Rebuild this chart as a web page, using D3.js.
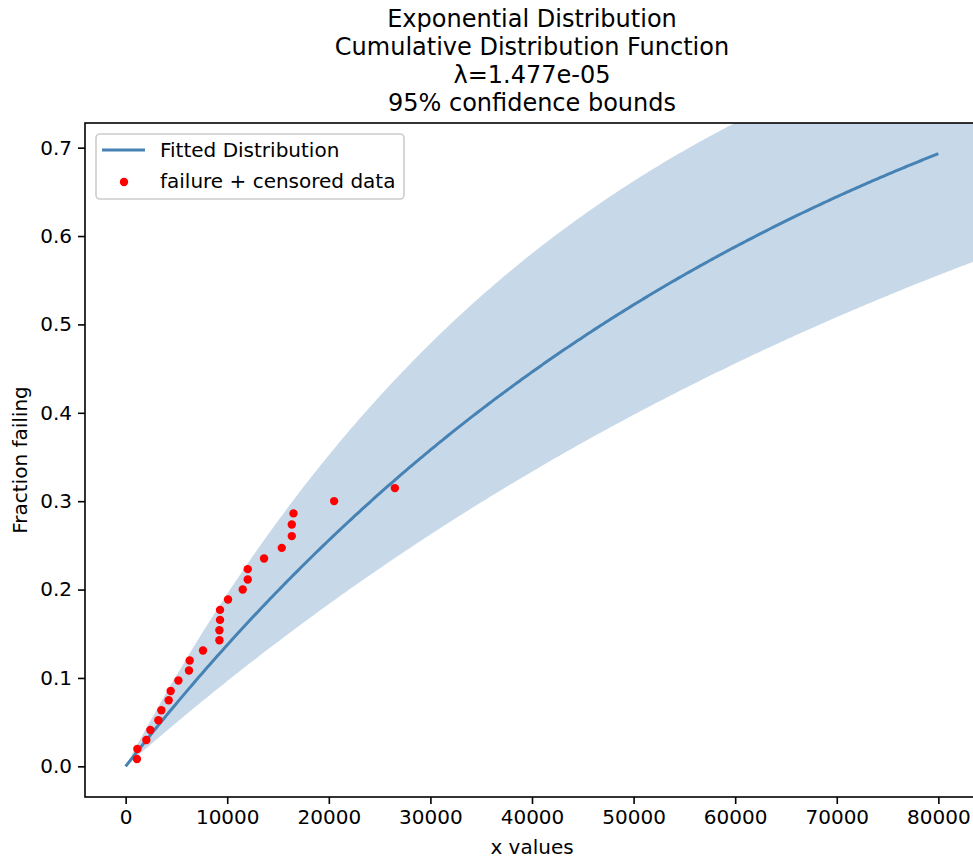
<!DOCTYPE html>
<html>
<head>
<meta charset="utf-8">
<script src="https://cdn.jsdelivr.net/npm/d3@7"></script>
<style>
  body { margin: 0; background: #fff; }
  svg { display: block; font-family: "DejaVu Sans", sans-serif; }
</style>
</head>
<body>
<svg id="chart" width="973" height="859"></svg>
<script>
// ---- data ----
const titleLines = ["Exponential Distribution", "Cumulative Distribution Function", "λ=1.477e-05", "95% confidence bounds"];
const lambdaFit = 1.477e-05;     // fitted rate
const lambdaUpperCI = 2.17e-05;  // rate giving upper CDF bound
const lambdaLowerCI = 1.014e-05; // rate giving lower CDF bound
const fitXMax = 80000;           // fitted line drawn from 0 to this x
const ciXMax = 90000;            // confidence band extends past the view
const failureX = [1113, 1153, 2039, 2433, 3222, 3517, 4236, 4433, 5192, 6236, 6305, 7616, 9232, 9232, 9291, 9291, 10079, 11527, 12020, 12020, 13626, 15369, 16355, 16355, 16522, 20522, 26502];
const failureY = [0.0083, 0.0196, 0.0298, 0.0411, 0.0521, 0.0634, 0.0747, 0.0853, 0.0971, 0.1084, 0.1197, 0.1310, 0.1427, 0.1540, 0.1657, 0.1770, 0.1888, 0.2001, 0.2114, 0.2231, 0.2352, 0.2472, 0.2605, 0.2737, 0.2862, 0.3001, 0.3148];
const xTicks = [0, 10000, 20000, 30000, 40000, 50000, 60000, 70000, 80000];
const yTicks = [0.0, 0.1, 0.2, 0.3, 0.4, 0.5, 0.6, 0.7];
const legendLabels = ["Fitted Distribution", "failure + censored data"];

(function () {
// ---- layout ----
const svg = d3.select("#chart");
const pl = 85, pt = 123, pr = 979, pb = 797;
const x = d3.scaleLinear().domain([-4000, 84000]).range([pl, pr]);
const y = d3.scaleLinear().domain([-0.0347, 0.7279]).range([pb, pt]);
const lineColor = "#4682b4";
const cdf = (lam, t) => 1 - Math.exp(-lam * t);

svg.append("defs").append("clipPath").attr("id", "plotclip")
  .append("rect").attr("x", pl).attr("y", pt).attr("width", pr - pl).attr("height", pb - pt);

const plot = svg.append("g").attr("clip-path", "url(#plotclip)");

// confidence band
const ciXs = d3.range(0, ciXMax + 1, 250);
const area = d3.area()
  .x(d => x(d))
  .y0(d => y(cdf(lambdaLowerCI, d)))
  .y1(d => y(cdf(lambdaUpperCI, d)));
plot.append("path").datum(ciXs).attr("d", area)
  .attr("fill", lineColor).attr("fill-opacity", 0.3).attr("stroke", "none");

// fitted line
const fitXs = d3.range(0, fitXMax + 1, 250);
const line = d3.line().x(d => x(d)).y(d => y(cdf(lambdaFit, d)));
plot.append("path").datum(fitXs).attr("d", line)
  .attr("fill", "none").attr("stroke", lineColor).attr("stroke-width", 3);

// scatter
plot.selectAll("circle.pt").data(failureX.map((v, i) => [v, failureY[i]]))
  .enter().append("circle").attr("class", "pt")
  .attr("cx", d => x(d[0])).attr("cy", d => y(d[1])).attr("r", 4.2)
  .attr("fill", "red");

// axes
const xAxis = d3.axisBottom(x).tickValues(xTicks).tickFormat(d3.format("d")).tickSize(7).tickPadding(6);
const yAxis = d3.axisLeft(y).tickValues(yTicks).tickFormat(d3.format(".1f")).tickSize(7).tickPadding(6);
const gx = svg.append("g").attr("transform", `translate(0,${pb})`).call(xAxis);
const gy = svg.append("g").attr("transform", `translate(${pl},0)`).call(yAxis);
[gx, gy].forEach(g => {
  g.select(".domain").remove();
  g.selectAll(".tick line").attr("stroke", "#000").attr("stroke-width", 1.6);
  g.selectAll(".tick text").attr("font-size", 20).attr("fill", "#000").attr("font-family", "DejaVu Sans");
});

// spines
svg.append("rect").attr("x", pl).attr("y", pt).attr("width", pr - pl).attr("height", pb - pt)
  .attr("fill", "none").attr("stroke", "#000").attr("stroke-width", 1.6);

// axis labels
svg.append("text").attr("x", (pl + pr) / 2).attr("y", 854).attr("text-anchor", "middle")
  .attr("font-size", 20).text("x values");
svg.append("text").attr("transform", `translate(27,${(pt + pb) / 2}) rotate(-90)`).attr("text-anchor", "middle")
  .attr("font-size", 20).text("Fraction failing");

// title
svg.append("g").selectAll("text").data(titleLines).enter().append("text")
  .attr("x", (pl + pr) / 2).attr("y", (d, i) => 27 + i * 28)
  .attr("text-anchor", "middle").attr("font-size", 24).text(d => d);

// legend
const lg = svg.append("g");
lg.append("rect").attr("x", 96).attr("y", 134).attr("width", 308).attr("height", 65).attr("rx", 4)
  .attr("fill", "#fff").attr("fill-opacity", 0.8).attr("stroke", "#cccccc").attr("stroke-width", 1.6);
lg.append("line").attr("x1", 102).attr("x2", 145).attr("y1", 150).attr("y2", 150)
  .attr("stroke", lineColor).attr("stroke-width", 3);
lg.append("circle").attr("cx", 124).attr("cy", 182).attr("r", 4.2).attr("fill", "red");
lg.selectAll("text.lt").data(legendLabels).enter().append("text").attr("class", "lt")
  .attr("x", 160).attr("y", (d, i) => 157 + i * 31).attr("font-size", 20).text(d => d);
})();
</script>
</body>
</html>
